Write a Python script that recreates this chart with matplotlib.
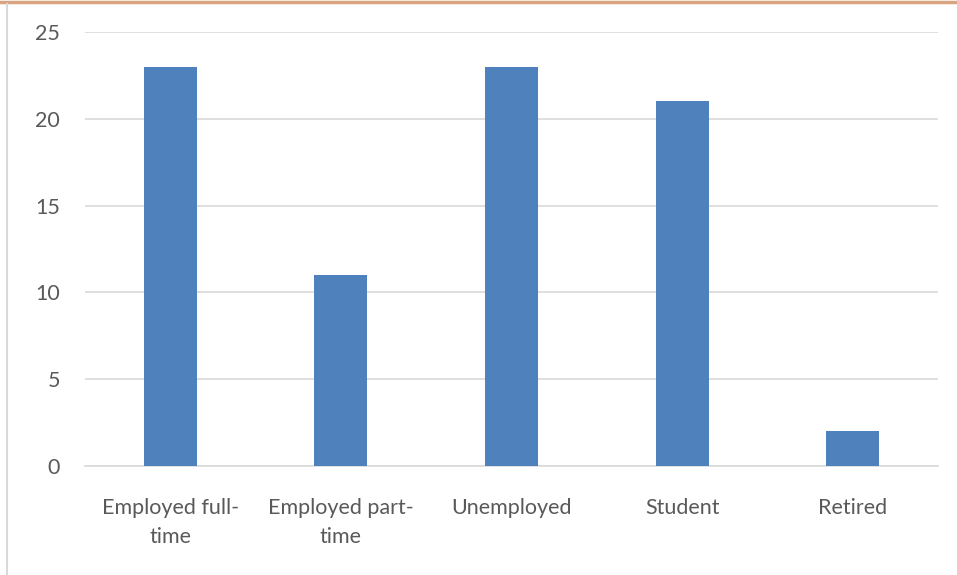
import matplotlib.pyplot as plt
from matplotlib.lines import Line2D

categories = ["Employed full-\ntime", "Employed part-\ntime", "Unemployed", "Student", "Retired"]
values = [23, 11, 23, 21, 2]
y_ticks = [0, 5, 10, 15, 20, 25]

plt.rcParams['font.family'] = ['Lato', 'DejaVu Sans']

W, H = 957, 575
fig = plt.figure(figsize=(W / 100, H / 100), dpi=100)
ax = fig.add_axes([85 / W, 1 - 466 / H, (938 - 85) / W, (466 - 32) / H])

x = range(len(categories))
ax.bar(x, values, width=0.31, color='#4f81bd', zorder=3)

ax.set_xlim(-0.5, len(categories) - 0.5)
ax.set_ylim(0, 25)
ax.set_yticks(y_ticks)
ax.set_xticks(list(x))
ax.set_xticklabels(categories, linespacing=1.55)
ax.tick_params(axis='both', length=0, labelsize=15.5, labelcolor='#595959')
ax.tick_params(axis='y', pad=18)
ax.tick_params(axis='x', pad=23)
for lbl in ax.get_xticklabels():
    lbl.set_verticalalignment('top')

ax.yaxis.grid(True, color='#d9d9d9', linewidth=1.2, zorder=0)
for s in ['top', 'right', 'left']:
    ax.spines[s].set_visible(False)
ax.spines['bottom'].set_color('#d9d9d9')
ax.spines['bottom'].set_linewidth(1.2)

# frame bits from the original screenshot
fig.add_artist(Line2D([0, 1], [1 - 1.5 / H, 1 - 1.5 / H], color='#d9a37f', linewidth=2.5))
fig.add_artist(Line2D([7 / W, 7 / W], [0, 1 - 4 / H], color='#d9d9d9', linewidth=1.5))

fig.savefig('out.png', dpi=100)
